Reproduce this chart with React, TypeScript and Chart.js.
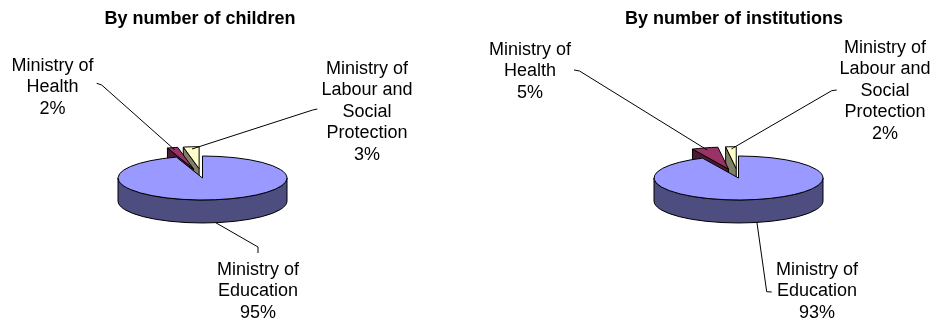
import React, { useEffect, useRef } from 'react';
import { Chart, registerables } from 'chart.js';

Chart.register(...registerables);

// ---- data ----
const categories = ['Ministry of Education', 'Ministry of Health', 'Ministry of Labour and Social Protection'];
const categoryLines = [
  ['Ministry of', 'Education'],
  ['Ministry of', 'Health'],
  ['Ministry of', 'Labour and', 'Social', 'Protection'],
];
const childrenShares = [95, 2, 3];
const institutionShares = [93, 5, 2];
const chartTitles = ['By number of children', 'By number of institutions'];

// ---- styles ----
const topColors = ['#9999FF', '#993366', '#FFFFCC'];
const sideColors = ['#4D4D80', '#4D1A33', '#808066'];
const FONT = '"Liberation Sans", Arial, Helvetica, sans-serif';
const RADIUS = 84.5;
const TILT = 0.26;
const DEPTH = 23;
const EXPLODE = [0, 36, 36];
const LINE_STEP = 21.4;

type LabelPos = { x: number; y: number; from: [number, number]; elbow: [number, number] };
const layouts: { left: number; width: number; pad: any; shift: number; labels: LabelPos[] }[] = [
  {
    left: 0,
    width: 466,
    pad: { left: 0, right: 66, top: 0, bottom: 5.6 },
    shift: 2.5,
    labels: [
      { x: 258, y: 275, from: [258, 253], elbow: [258, 247] },
      { x: 52.5, y: 71, from: [96.7, 83.3], elbow: [101.7, 85] },
      { x: 367, y: 74, from: [317.3, 109], elbow: [312.7, 110] },
    ],
  },
  {
    left: 466,
    width: 465,
    pad: { left: 71, right: 0, top: 0, bottom: 5.6 },
    shift: 4.5,
    labels: [
      { x: 351, y: 275, from: [305.7, 292], elbow: [300.7, 291.7] },
      { x: 64, y: 55, from: [108, 70], elbow: [113.5, 71] },
      { x: 419, y: 53, from: [370.7, 90], elbow: [365.7, 90.7] },
    ],
  },
];

function PieCanvas({ index }: { index: number }) {
  const ref = useRef<HTMLCanvasElement>(null);
  const L = layouts[index];
  useEffect(() => {
    const values = index === 0 ? childrenShares : institutionShares;
    const geom = (arc: any, i: number) => {
      const p = arc.getProps(['x', 'y', 'startAngle', 'endAngle', 'outerRadius'], true);
      const mid = (p.startAngle + p.endAngle) / 2;
      const T = EXPLODE[i];
      return { ...p, mid, X: p.x + L.shift + Math.cos(mid) * T, Y: p.y + Math.sin(mid) * T * TILT };
    };
    const plugin = {
      id: 'pie3d',
      beforeDatasetsDraw(chart: any) {
        const ctx: CanvasRenderingContext2D = chart.ctx;
        const arcs = chart.getDatasetMeta(0).data as any[];
        const order = arcs
          .map((_, i) => i)
          .sort((i, j) => Math.sin(geom(arcs[i], i).mid) - Math.sin(geom(arcs[j], j).mid));
        const dpr = chart.currentDevicePixelRatio || 1;
        for (const i of order) {
          const g = geom(arcs[i], i);
          const R = g.outerRadius;
          const { X, Y } = g;
          ctx.save();
          ctx.fillStyle = sideColors[i];
          ctx.strokeStyle = '#000';
          ctx.lineWidth = 1;
          ctx.lineJoin = 'round';
          // radial faces
          const faces: number[] = [];
          if (Math.cos(g.startAngle) < -1e-6) faces.push(g.startAngle);
          if (Math.cos(g.endAngle) > 1e-6) faces.push(g.endAngle);
          for (const ang of faces) {
            const px = X + R * Math.cos(ang);
            const py = Y + R * TILT * Math.sin(ang);
            ctx.beginPath();
            ctx.moveTo(X, Y);
            ctx.lineTo(px, py);
            ctx.lineTo(px, py + DEPTH);
            ctx.lineTo(X, Y + DEPTH);
            ctx.closePath();
            ctx.fill();
            ctx.stroke();
          }
          // outer wall (front half)
          for (let k = -1; k <= 1; k++) {
            const lo = Math.max(g.startAngle, 2 * Math.PI * k);
            const hi = Math.min(g.endAngle, Math.PI + 2 * Math.PI * k);
            if (hi > lo) {
              ctx.beginPath();
              ctx.ellipse(X, Y, R, R * TILT, 0, lo, hi);
              ctx.lineTo(X + R * Math.cos(hi), Y + R * TILT * Math.sin(hi) + DEPTH);
              ctx.ellipse(X, Y + DEPTH, R, R * TILT, 0, hi, lo, true);
              ctx.closePath();
              ctx.fill();
              ctx.stroke();
            }
          }
          ctx.restore();
          // top face drawn by the library's arc element, squashed
          ctx.save();
          ctx.translate(X, Y);
          ctx.scale(1, TILT);
          ctx.translate(-g.x, -g.y);
          const orig = ctx.stroke;
          (ctx as any).stroke = function (...args: any[]) {
            this.save();
            this.setTransform(dpr, 0, 0, dpr, 0, 0);
            orig.apply(this, args);
            this.restore();
          };
          arcs[i].draw(ctx);
          delete (ctx as any).stroke;
          ctx.restore();
        }
        return false;
      },
      afterDraw(chart: any) {
        const ctx: CanvasRenderingContext2D = chart.ctx;
        const arcs = chart.getDatasetMeta(0).data as any[];
        ctx.save();
        ctx.font = `18px ${FONT}`;
        ctx.fillStyle = '#000';
        ctx.textAlign = 'center';
        ctx.textBaseline = 'alphabetic';
        ctx.strokeStyle = '#000';
        ctx.lineWidth = 1;
        arcs.forEach((arc, i) => {
          const g = geom(arc, i);
          const R = g.outerRadius;
          let ax: number, ay: number;
          if (EXPLODE[i] === 0) {
            ax = g.X + R * Math.cos(g.mid);
            ay = g.Y + R * TILT * Math.sin(g.mid) + DEPTH;
          } else {
            ax = g.X + 0.9 * R * Math.cos(g.mid);
            ay = g.Y + 0.9 * R * TILT * Math.sin(g.mid);
          }
          const lp = L.labels[i];
          ctx.beginPath();
          ctx.moveTo(lp.from[0], lp.from[1]);
          ctx.lineTo(lp.elbow[0], lp.elbow[1]);
          ctx.lineTo(ax, ay);
          ctx.stroke();
          const lines = [...categoryLines[i], `${values[i]}%`];
          lines.forEach((t, k) => ctx.fillText(t, lp.x, lp.y + k * LINE_STEP));
        });
        ctx.restore();
      },
    };
    const chart = new Chart(ref.current as HTMLCanvasElement, {
      type: 'pie',
      data: {
        labels: categories,
        datasets: [
          {
            data: values,
            backgroundColor: topColors,
            borderColor: '#000000',
            borderWidth: 1,
          },
        ],
      },
      options: {
        animation: false,
        responsive: false,
        devicePixelRatio: 1,
        events: [],
        radius: RADIUS,
        layout: { padding: L.pad },
        plugins: {
          legend: { display: false },
          tooltip: { enabled: false },
          title: {
            display: true,
            text: chartTitles[index],
            color: '#000',
            font: { family: FONT, size: 18, weight: 'bold' },
            padding: { top: 8, bottom: 10 },
          },
        },
      } as any,
      plugins: [plugin as any],
    });
    return () => chart.destroy();
  }, [index]);
  return (
    <canvas
      ref={ref}
      width={L.width}
      height={322}
      style={{ position: 'absolute', left: L.left, top: 0, width: L.width, height: 322 }}
    />
  );
}

export default function App() {
  return (
    <div style={{ position: 'fixed', left: 0, top: 0, width: 931, height: 322, background: '#fff' }}>
      <PieCanvas index={0} />
      <PieCanvas index={1} />
    </div>
  );
}
